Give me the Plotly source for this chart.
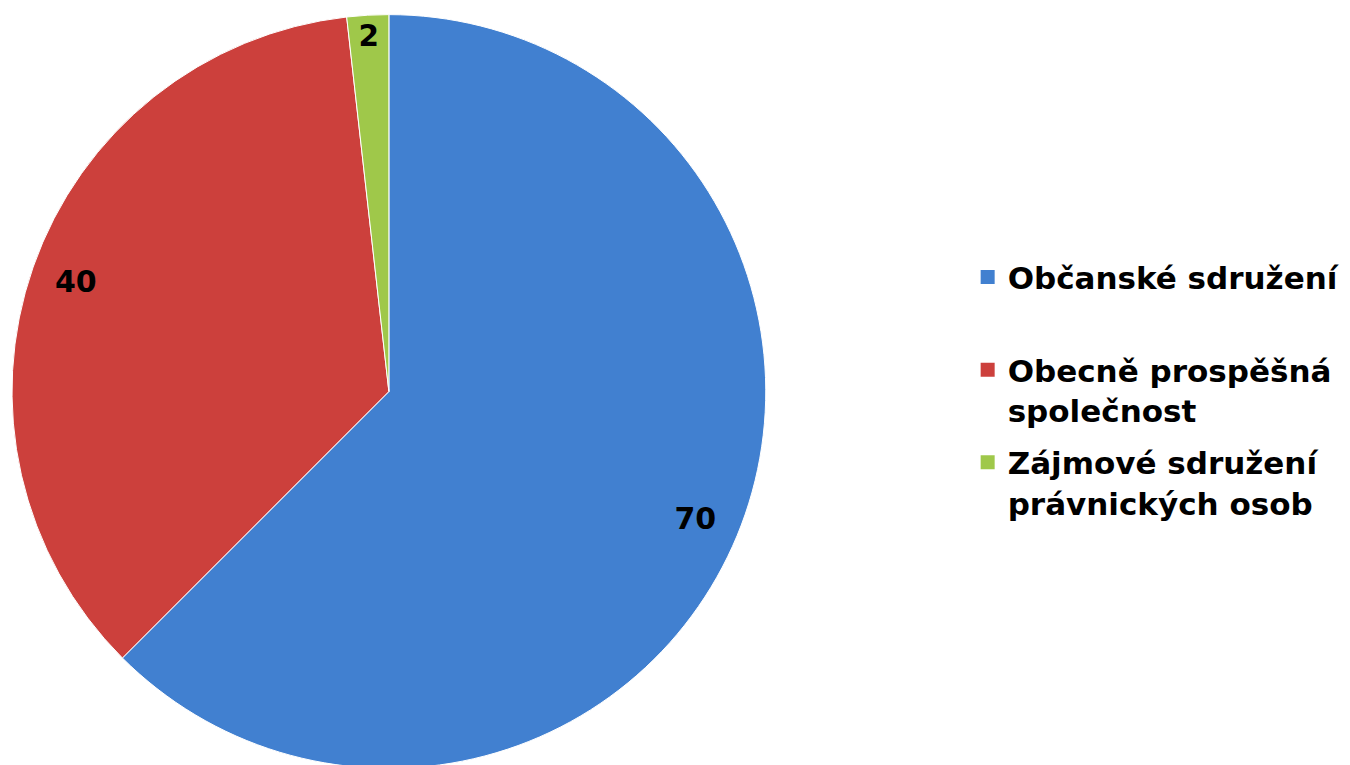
import plotly.graph_objects as go

labels = ["Občanské sdružení", "Obecně prospěšná<br>společnost", "Zájmové sdružení<br>právnických osob"]
values = [70, 40, 2]
colors = ["#4180d0", "#cc403c", "#9fc84a"]

pie_domain = dict(x=[0, 0.56], y=[0, 1])
fnt = dict(family="DejaVu Sans", size=31, color="black", weight="bold")

fig = go.Figure()
# the pie itself
fig.add_trace(
    go.Pie(
        labels=labels,
        values=values,
        sort=False,
        direction="clockwise",
        rotation=0,
        textinfo="none",
        marker=dict(colors=colors, line=dict(color="white", width=1)),
        domain=pie_domain,
        showlegend=False,
    )
)
# transparent ring, only to put the value labels near the rim
fig.add_trace(
    go.Pie(
        labels=labels,
        values=values,
        sort=False,
        direction="clockwise",
        rotation=0,
        hole=0.76,
        textinfo="value",
        textposition="inside",
        insidetextorientation="horizontal",
        textfont=dict(family="DejaVu Sans", size=30, color="black", weight="bold"),
        marker=dict(colors=["rgba(0,0,0,0)"] * len(values)),
        domain=pie_domain,
        showlegend=False,
        hoverinfo="skip",
    )
)

# legend entries (separate groups so items get a gap between them)
for i, (lab, col) in enumerate(zip(labels, colors)):
    name = lab + "<br> " if i == 0 else lab
    fig.add_trace(
        go.Scatter(
            x=[None], y=[None], mode="markers", name=name, legendgroup=str(i),
            marker=dict(symbol="square", size=14, color=col),
        )
    )

fig.update_layout(
    width=1350,
    height=765,
    margin=dict(l=4, r=0, t=2, b=0),
    paper_bgcolor="white",
    plot_bgcolor="white",
    font=fnt,
    xaxis=dict(visible=False),
    yaxis=dict(visible=False),
    legend=dict(x=0.71, y=0.502, yanchor="middle", valign="top", font=fnt,
                tracegroupgap=9),
)

fig.write_html("out.html")
